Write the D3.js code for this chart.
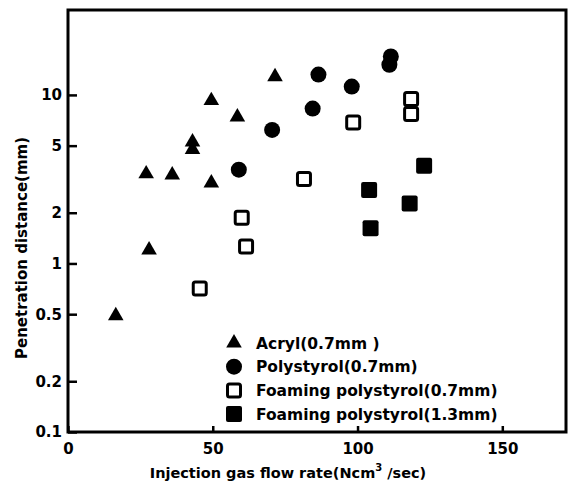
<!DOCTYPE html>
<html>
<head>
<meta charset="utf-8">
<script src="https://cdn.jsdelivr.net/npm/d3@7"></script>
<style>
  body { margin: 0; background: #fff; }
  svg text { font-family: "DejaVu Sans", sans-serif; font-weight: bold; fill: #000; }
</style>
</head>
<body>
<svg width="575" height="486"></svg>
<script>
// values (x: Ncm3/sec, y: mm)
var acrylX = [16.5, 28, 27, 36, 43, 43, 49.5, 49.5, 58.5, 71.5];
var acrylY = [0.49, 1.2, 3.4, 3.35, 5.25, 4.75, 9.25, 3.0, 7.4, 12.8];

var polyX = [59, 70.5, 84.5, 86.5, 98, 111, 111.5];
var polyY = [3.6, 6.2, 8.3, 13.2, 11.2, 15.1, 16.9];

var foam07X = [45.5, 60, 61.5, 81.5, 98.5, 118.5, 118.5];
var foam07Y = [0.71, 1.87, 1.26, 3.17, 6.85, 9.46, 7.7];

var foam13X = [104, 104.5, 118, 123];
var foam13Y = [2.73, 1.62, 2.27, 3.8];

var xTicks = [0, 50, 100, 150];
var yTicks = [0.1, 0.2, 0.5, 1, 2, 5, 10];
var yTickLabels = ["0.1", "0.2", "0.5", "1", "2", "5", "10"];

var legendNames = ["Acryl(0.7mm )", "Polystyrol(0.7mm)", "Foaming polystyrol(0.7mm)", "Foaming polystyrol(1.3mm)"];

var plotL = 68, plotR = 566, plotT = 10, plotB = 432;

var svg = d3.select("svg");

var x = d3.scaleLinear().domain([0, 172]).range([plotL, plotR]);
var y = d3.scaleLog().domain([0.1, 31.9]).range([plotB, plotT]);

// frame
svg.append("rect")
    .attr("x", plotL).attr("y", plotT)
    .attr("width", plotR - plotL).attr("height", plotB - plotT)
    .attr("fill", "none").attr("stroke", "#000").attr("stroke-width", 3);

// y axis, ticks point inward
var yAxis = svg.append("g")
    .attr("transform", "translate(" + plotL + ",0)")
    .call(d3.axisLeft(y).tickValues(yTicks).tickSize(-9).tickPadding(6)
        .tickFormat((d, i) => yTickLabels[i]));
yAxis.select(".domain").remove();
yAxis.selectAll("line").attr("stroke-width", 2.5);
yAxis.selectAll("text").style("font-size", "15px");

var xAxis = svg.append("g")
    .attr("transform", "translate(0," + plotB + ")")
    .call(d3.axisBottom(x).tickValues(xTicks).tickSize(-6).tickPadding(11));
xAxis.select(".domain").remove();
xAxis.selectAll("line").attr("stroke-width", 2.5);
xAxis.selectAll("text").style("font-size", "15px");

// axis titles
svg.append("text")
    .attr("transform", "translate(27,248) rotate(-90)")
    .attr("text-anchor", "middle")
    .style("font-size", "15px")
    .text("Penetration distance(mm)");

var xt = svg.append("text")
    .attr("x", 288).attr("y", 478)
    .attr("text-anchor", "middle")
    .style("font-size", "14.5px");
xt.append("tspan").text("Injection gas flow rate(Ncm");
xt.append("tspan").attr("dy", -7).style("font-size", "10px").text("3");
xt.append("tspan").attr("dy", 7).text(" /sec)");

// markers
function pairs(xs, ys) { return xs.map((v, i) => [v, ys[i]]); }

var tri = d3.symbol().type(d3.symbolTriangle).size(105);

function mark(g, kind, cx, cy) {
    if (kind === "tri") {
        g.append("path").attr("d", tri()).attr("transform", "translate(" + cx + "," + cy + ")");
    } else if (kind === "circle") {
        g.append("circle").attr("cx", cx).attr("cy", cy).attr("r", 8);
    } else if (kind === "open") {
        g.append("rect").attr("x", cx - 6.5).attr("y", cy - 6.5).attr("width", 13).attr("height", 13)
            .attr("rx", 2).attr("fill", "#fff").attr("stroke", "#000").attr("stroke-width", 3);
    } else {
        g.append("rect").attr("x", cx - 8).attr("y", cy - 8).attr("width", 16).attr("height", 16)
            .attr("rx", 2).attr("fill", "#000");
    }
}

function drawSeries(data, kind) {
    var g = svg.append("g");
    data.forEach(d => mark(g, kind, x(d[0]), y(d[1])));
}

drawSeries(pairs(acrylX, acrylY), "tri");
drawSeries(pairs(polyX, polyY), "circle");
drawSeries(pairs(foam07X, foam07Y), "open");
drawSeries(pairs(foam13X, foam13Y), "filled");

// legend
var kinds = ["tri", "circle", "open", "filled"];
var lg = svg.append("g");
legendNames.forEach(function (name, i) {
    var ly = 343 + i * 23.7;
    mark(lg, kinds[i], 234, ly);
    lg.append("text").attr("x", 256).attr("y", ly + 5.5)
        .style("font-size", "15.5px")
        .text(name);
});
</script>
</body>
</html>
